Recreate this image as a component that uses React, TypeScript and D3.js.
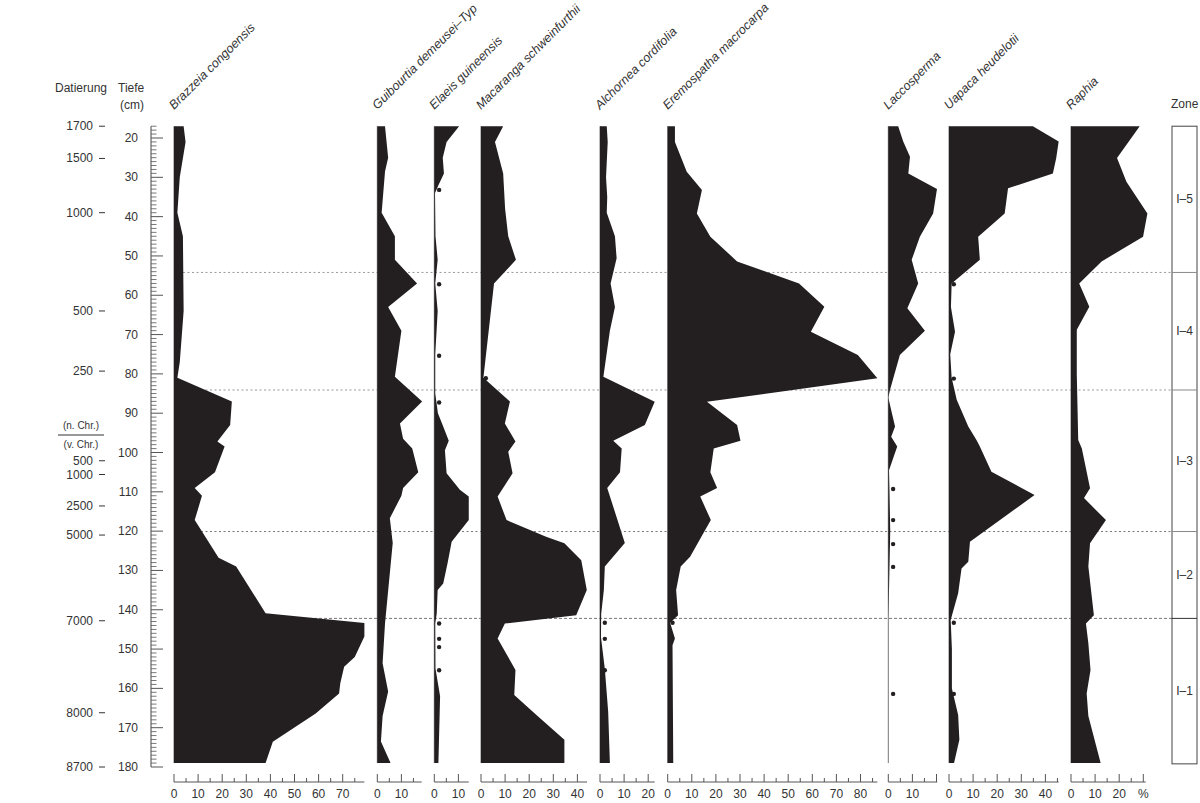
import React from 'react';
import * as d3 from 'd3';

type Pt = [number, number];

// ---------- DATA (depth in cm, value in %) ----------
const brazzeia: Pt[] = [
  [17, 4], [21, 4.8], [30, 2.4], [39, 1.4], [45, 3.7], [64, 4], [77, 2.4], [81, 1.4],
  [87, 24], [93, 23.3], [97.2, 18], [98.5, 21], [105, 17], [109, 8.6], [111, 11.6],
  [117.2, 8.6], [126.8, 18.5], [129, 25.8], [140.9, 38], [143.4, 79], [146.8, 79],
  [152, 75], [154.5, 70.6], [158.7, 69], [161.3, 68.5], [166.4, 58.8], [173.6, 41], [179, 38],
];
const guibourtia: Pt[] = [
  [17, 3.2], [25, 4.5], [28.5, 3.2], [39, 1.8], [45, 7.3], [51, 7.3], [57, 16.5], [63, 4.5],
  [69, 10], [80.7, 7.3], [87, 18.6], [92.6, 9.4], [96.5, 10.7], [99, 14.5], [105, 17],
  [109, 10.7], [111, 10], [116.7, 5.2], [123, 6.4], [143.5, 3.2], [153.6, 2.2], [160.8, 4.5],
  [167, 2.2], [173.5, 1.5], [179, 5.5],
];
const elaeis: Pt[] = [
  [17, 10.3], [21, 5.1], [25, 3.5], [29, 4], [32, 1.7], [34, 0.3], [45, 0.5], [51, 1.4],
  [57, 0.4], [64, 1.4], [75, 0.4], [85, 0.4], [90, 1.5], [93.4, 3.7], [97, 6], [99.4, 4.4],
  [105.3, 5.1], [109.5, 10.6], [111.2, 14.3], [117.2, 14.3], [122.7, 7.2], [128.2, 5.5],
  [133.3, 3.7], [135, 1.4], [141, 1], [143.5, 0.4], [155, 0.5], [162, 2.4], [179, 1.7],
];
const macaranga: Pt[] = [
  [17, 9.2], [21, 5.8], [29, 9.2], [38, 10], [45, 11.3], [51, 14.5], [57, 5.4], [81, 1],
  [87, 12], [92.6, 9.9], [97.2, 14.3], [99.8, 11.3], [105.3, 13.1], [111.2, 6.9],
  [117.2, 10.6], [121.4, 27], [123.1, 34.6], [127.4, 41.6], [135, 43.9], [141.4, 39.5],
  [143.5, 9.9], [147.3, 6.9], [155.3, 14.3], [161.7, 13.8], [166.8, 23], [173.1, 34.6], [179, 34.6],
];
const alchornea: Pt[] = [
  [17, 2.8], [21, 3.2], [30, 2.5], [35, 3], [39, 2.8], [45, 6.2], [50.6, 6.9], [57, 4.4],
  [63, 6.2], [69, 4.1], [80.7, 1.4], [87.1, 22.7], [93, 18.6], [97, 5.5], [99, 9], [105, 8.3],
  [109, 3], [123, 10.3], [129, 2], [135, 1.6], [141, 0.5], [147, 0.4], [155, 2], [166, 3.4], [179, 4.1],
];
const eremospatha: Pt[] = [
  [17, 3], [21, 3], [28.6, 7.9], [33.2, 14.2], [39.2, 12.1], [45.1, 17.7], [51.4, 28.8],
  [57, 54.5], [62.9, 65], [69.3, 59.4], [75.2, 78.9], [81.1, 87], [87.1, 16.3], [93, 28.8],
  [97, 30.2], [99, 19.1], [105, 17.7], [109, 20.5], [111.2, 13.5], [117.2, 17.9], [122.7, 12.8],
  [126.5, 9.3], [129, 5.4], [135, 3.5], [141.4, 4.3], [143.3, 1], [147.3, 3], [149, 2], [179, 2.3],
];
const laccosperma: Pt[] = [
  [17, 4.1], [20.9, 6.2], [24.8, 9], [29, 8.3], [33, 20.2], [39.2, 18.6], [45.1, 13.1],
  [51, 9.7], [57, 12.4], [63.3, 7.9], [69, 15.2], [75.2, 4.8], [84.1, 0.7], [86, 0], [90, 1.5],
  [93.4, 2.8], [96, 1.2], [98.5, 3.7], [104.5, 0.3], [110, 0.5], [120, 0.8], [135, 0.3], [142, 0], [179, 0],
];
const uapaca: Pt[] = [
  [17, 34.8], [20.9, 45.5], [25.1, 44.5], [29, 43.1], [32.8, 24.5], [39.2, 23.1], [45.1, 12.1],
  [51, 12.8], [57, 1.1], [63, 0.8], [69.3, 2.5], [75, 0.5], [81, 1.1], [86.6, 3.2], [93.4, 8],
  [96.8, 11.4], [98.5, 12.8], [104.9, 17.6], [110.8, 35.5], [122.7, 8.7], [127.8, 8],
  [129.5, 5.2], [135.8, 3.8], [142.6, 0.7], [150, 1.2], [160, 1.2], [166.8, 3.8], [173.1, 4.3], [179, 2.1],
];
const raphia: Pt[] = [
  [17, 28.5], [25.1, 19.1], [31.1, 23], [39.2, 31.7], [45.1, 29.9], [51.4, 12.7], [57, 3.4],
  [62.9, 7.6], [68.8, 2.4], [80, 2.4], [96.8, 3], [99, 4.5], [109.1, 7.9], [111.6, 5.4],
  [117.2, 14.5], [123.1, 7.9], [129, 7.2], [141.4, 9.5], [143.5, 6.2], [148.5, 7.2],
  [155.3, 8.1], [161.3, 6.5], [167, 7.2], [179, 12.3],
];

// presence dots (<1 %), depths in cm
const elaeisDots = [33.2, 57.2, 75.4, 87.3, 143.5, 147.4, 149.5, 155.4];
const macarangaDots = [81.1];
const alchorneaDots = [143.3, 147.4, 155.4];
const eremospathaDots = [143.3];
const laccospermaDots = [109.3, 117.2, 123.3, 129.1, 161.4];
const uapacaDots = [57.2, 81.2, 143.3, 161.4];

const taxonNames = [
  'Brazzeia congoensis', 'Guibourtia demeusei–Typ', 'Elaeis guineensis',
  'Macaranga schweinfurthii', 'Alchornea cordifolia', 'Eremospatha macrocarpa',
  'Laccosperma', 'Uapaca heudelotii', 'Raphia',
];
const taxonSeries: Pt[][] = [brazzeia, guibourtia, elaeis, macaranga, alchornea, eremospatha, laccosperma, uapaca, raphia];
const taxonDots: number[][] = [[], [], elaeisDots, macarangaDots, alchorneaDots, eremospathaDots, laccospermaDots, uapacaDots, []];
const taxonAxisMax = [79, 18.4, 14.3, 44, 22.7, 87, 20.3, 45.5, 31];
const taxonTickLabels: string[][] = [
  ['0', '10', '20', '30', '40', '50', '60', '70'],
  ['0', '10'],
  ['0', '10'],
  ['0', '10', '20', '30', '40'],
  ['0', '10', '20'],
  ['0', '10', '20', '30', '40', '50', '60', '70', '80'],
  ['0', '10', ''],
  ['0', '10', '20', '30', '40'],
  ['0', '10', '20', '%'],
];

const depthTicks = d3.range(20, 181, 10);
const datingLabels = [
  { label: '1700', depth: 17 }, { label: '1500', depth: 25.2 }, { label: '1000', depth: 39 },
  { label: '500', depth: 64 }, { label: '250', depth: 79.3 }, { label: '500', depth: 102.1 },
  { label: '1000', depth: 105.6 }, { label: '2500', depth: 113.6 }, { label: '5000', depth: 121 },
  { label: '7000', depth: 142.8 }, { label: '8000', depth: 166.2 }, { label: '8700', depth: 180 },
];
const zones = [
  { name: 'I–5', top: 17, bottom: 54.2 },
  { name: 'I–4', top: 54.2, bottom: 84.1 },
  { name: 'I–3', top: 84.1, bottom: 120.1 },
  { name: 'I–2', top: 120.1, bottom: 142.2 },
  { name: 'I–1', top: 142.2, bottom: 179.2 },
];

// ---------- LAYOUT ----------
const W = 1200, H = 803;
const PX_PER_PCT = 2.41;
const panelBase = [174, 377.3, 434.3, 481, 600, 667.7, 888.3, 949, 1071];
const FONT = 'Liberation Sans, Arial, Helvetica, sans-serif';
const TEXT = '#333';
const FILL = '#231f20';

const y = d3.scaleLinear().domain([20, 180]).range([138, 767]);

export default function App() {
  const axisY = 782;
  const zoneX0 = 1172, zoneX1 = 1197;
  return (
    <svg width={W} height={H} style={{ position: 'absolute', left: 0, top: 0, background: '#fff' }}
      fontFamily={FONT}>
      <rect x={0} y={0} width={W} height={H} fill="#fff" />

      {/* header */}
      <text x={55} y={92} fontSize={12} fill={TEXT}>Datierung</text>
      <text x={118} y={92} fontSize={12} fill={TEXT}>Tiefe</text>
      <text x={120} y={109} fontSize={12} fill={TEXT}>(cm)</text>
      <text x={1171} y={108} fontSize={12} fill={TEXT}>Zone</text>

      {/* dating */}
      {datingLabels.map((d, i) => (
        <g key={'dt' + i}>
          <text x={93} y={y(d.depth) + 4} fontSize={12} fill={TEXT} textAnchor="end">{d.label}</text>
          <line x1={99} x2={105} y1={y(d.depth)} y2={y(d.depth)} stroke={TEXT} strokeWidth={1} />
        </g>
      ))}
      <text x={81} y={429} fontSize={10} fill={TEXT} textAnchor="middle">(n. Chr.)</text>
      <line x1={58} x2={104} y1={435} y2={435} stroke={TEXT} strokeWidth={1} />
      <text x={81} y={448} fontSize={10} fill={TEXT} textAnchor="middle">(v. Chr.)</text>

      {/* depth ruler */}
      <line x1={151} x2={151} y1={y(17)} y2={y(180)} stroke="#444" strokeWidth={1} />
      {d3.range(17, 181, 1).map((d) => (
        <line key={'rt' + d} x1={151} x2={d % 10 === 0 ? 163 : 156.5} y1={y(d)} y2={y(d)}
          stroke="#555" strokeWidth={d % 10 === 0 ? 1 : 0.8} />
      ))}
      {depthTicks.map((d) => (
        <text key={'dl' + d} x={138} y={y(d) + 4} fontSize={12} fill={TEXT} textAnchor="end">{d}</text>
      ))}

      {/* zone dashed lines */}
      {zones.slice(1).map((z, i) => (
        <line key={'zl' + i} x1={panelBase[0]} x2={zoneX0} y1={y(z.top)} y2={y(z.top)}
          stroke={i >= 2 ? '#777' : '#999'} strokeWidth={1} strokeDasharray={i === 3 ? '3,2' : '2,2.5'} />
      ))}

      {/* panels */}
      {taxonSeries.map((series, i) => {
        const base = panelBase[i];
        const x = d3.scaleLinear().domain([0, 100]).range([base, base + 100 * PX_PER_PCT]);
        const area = d3.area<Pt>().y((d) => y(d[0])).x0(x(0)).x1((d) => x(d[1]));
        const axMax = taxonAxisMax[i];
        const ticks = d3.range(0, axMax + 0.01, 5);
        const labels = taxonTickLabels[i];
        return (
          <g key={'p' + i}>
            <line x1={x(0)} x2={x(0)} y1={y(17)} y2={y(179)} stroke="#777" strokeWidth={1} />
            <path d={area(series) || ''} fill={FILL} />
            {taxonDots[i].map((dd, k) => (
              <circle key={'dot' + k} cx={x(2)} cy={y(dd)} r={2.2} fill={FILL} />
            ))}
            {/* bottom axis */}
            <line x1={x(0)} x2={x(axMax)} y1={axisY} y2={axisY} stroke="#555" strokeWidth={1} />
            {ticks.map((t) => (
              <line key={'t' + t} x1={x(t)} x2={x(t)} y1={axisY} y2={t % 10 === 0 ? axisY - 8 : axisY - 4}
                stroke="#555" strokeWidth={1} />
            ))}
            {labels.map((lab, k) => (
              <text key={'l' + k} x={x(k * 10)} y={axisY + 16} fontSize={12} fill={TEXT} textAnchor="middle">{lab}</text>
            ))}
            {/* taxon name */}
            <text transform={`translate(${base},${110}) rotate(-45)`} fontSize={12.5} fontStyle="italic" fill={TEXT}>
              {taxonNames[i]}
            </text>
          </g>
        );
      })}

      {/* zone column */}
      <rect x={zoneX0} y={y(17)} width={zoneX1 - zoneX0} height={y(179.2) - y(17)} fill="none" stroke="#444" strokeWidth={1} />
      {zones.slice(1).map((z, i) => (
        <line key={'zb' + i} x1={zoneX0} x2={zoneX1} y1={y(z.top)} y2={y(z.top)} stroke={i === 3 ? '#333' : '#888'} strokeWidth={1} />
      ))}
      {zones.map((z) => (
        <text key={z.name} x={(zoneX0 + zoneX1) / 2} y={y((z.top + z.bottom) / 2) + 4} fontSize={12}
          fill={TEXT} textAnchor="middle">{z.name}</text>
      ))}
    </svg>
  );
}
